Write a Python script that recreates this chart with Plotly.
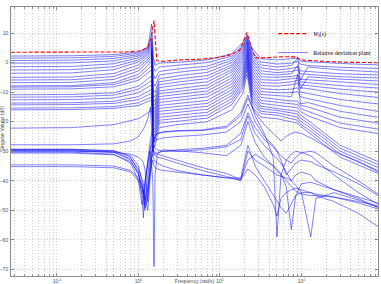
import plotly.graph_objects as go

# ---------------- data ----------------
X_TICKS = [0.1, 1, 10, 100]
X_TICKTEXT = ["10<sup>-1</sup>", "10<sup>0</sup>", "10<sup>1</sup>", "10<sup>2</sup>"]
Y_TICKS = [10, 0, -10, -20, -30, -40, -50, -60, -70]

# uncertainty weight W_I(s) (red dashed)
W_FREQ = [0.027, 0.3, 0.7, 1.0, 1.13, 1.31, 1.42, 1.55, 1.62, 1.68, 2.0, 3.2, 5.7, 10,
          13.3, 17.6, 21.4, 24, 27, 35, 60, 88, 96, 130, 225, 400, 870]
W_DB = [3.5, 3.5, 3.6, 3.9, 4.3, 5.4, 8.0, 14.2, 5.0, 0.6, 0.4, 0.9, 1.1, 1.8,
        2.6, 4.3, 10.2, 5.5, 1.6, 1.6, 2.0, 1.9, 0.9, 0.6, 0.3, 0.1, -0.05]

# upper family of relative-deviation curves
FREQ_UPPER = [0.027, 0.15, 0.5, 1.0, 1.3, 1.45, 1.52, 1.6, 1.8, 3, 7, 14, 19, 21.5,
              25, 32, 50, 75, 90, 97, 120, 300, 870]
UPPER_DB = [
    [2.2, 2.3, 2.7, 3.6, 5.2, 13.0, 2.0, -1.0, -0.2, 0.1, 0.9, 3.0, 6.8, 9.4, 4.6, 1.3, 0.9, 1.2, 1.5, 0.6, 0.3, -0.3, -0.8],
    [1.5, 1.6, 2.1, 3.2, 4.8, 9.8, -1.5, -3.0, -1.5, -1.0, 0.0, 2.2, 6.0, 8.9, 3.5, 0.2, -0.5, -0.2, 0.5, -0.5, -1.0, -1.6, -2.0],
    [0.7, 0.8, 1.4, 2.7, 4.4, 8.0, -4.0, -5.5, -3.0, -2.2, -1.2, 1.5, 5.4, 8.4, 2.6, -0.8, -1.5, -1.0, 1.5, -6.0, -1.5, -2.5, -3.2],
    [-0.2, -0.1, 0.6, 2.2, 4.0, 7.0, -7.0, -8.0, -4.2, -3.3, -2.2, 0.8, 5.0, 7.9, 1.8, -1.8, -2.5, -2.0, -1.5, -2.8, -3.0, -3.8, -4.2],
    [-1.4, -1.3, -0.4, 1.6, 3.5, 6.0, -9.5, -10.0, -5.5, -4.5, -3.3, 0.0, 4.4, 7.4, 1.0, -2.8, -3.4, -3.0, -2.5, -3.8, -4.0, -4.8, -5.2],
    [-2.5, -2.4, -1.4, 0.9, 3.0, 5.0, -11.5, -11.5, -6.5, -5.6, -4.4, -0.8, 3.8, 7.0, 0.2, -3.8, -4.2, -3.8, -1.0, -9.0, -4.8, -5.6, -6.2],
    [-3.6, -3.5, -2.4, 0.2, 2.5, 4.2, -13.0, -13.0, -7.5, -6.6, -5.4, -1.5, 3.2, 6.5, -0.8, -4.8, -5.0, -4.7, -4.3, -5.6, -5.8, -6.6, -7.4],
    [-5.0, -4.9, -3.7, -0.8, 1.8, 3.5, -14.5, -14.0, -8.5, -7.6, -6.5, -2.4, 2.5, 6.0, -1.8, -5.8, -6.0, -5.5, -5.2, -6.5, -6.8, -7.8, -8.6],
    [-5.9, -5.8, -4.7, -1.8, 1.0, 2.8, -16.0, -15.0, -9.6, -8.8, -7.6, -3.2, 1.8, 5.4, -2.8, -6.8, -7.0, -6.5, -6.0, -7.5, -7.8, -9.0, -10.0],
    [-6.8, -6.7, -5.7, -2.8, 0.2, 2.0, -17.0, -16.0, -10.5, -9.8, -8.6, -4.2, 1.0, 4.8, -3.8, -7.8, -8.0, -7.5, -7.0, -8.5, -8.8, -10.5, -11.8],
    [-7.9, -7.8, -6.8, -4.0, -1.0, 0.8, -18.0, -17.0, -11.5, -10.8, -9.6, -5.2, 0.2, 4.2, -4.8, -8.8, -9.2, -9.0, -8.5, -10.0, -10.5, -12.5, -14.0],
    [-8.3, -8.2, -7.4, -5.0, -2.2, -1.0, -19.0, -18.0, -12.5, -11.8, -10.6, -6.2, -0.8, 3.6, -5.8, -9.8, -10.2, -10.2, -9.8, -11.5, -12.2, -14.5, -16.5],
    [-9.0, -8.9, -8.2, -6.0, -3.5, -2.5, -20.0, -19.0, -13.5, -12.8, -11.6, -7.2, -1.8, 3.0, -6.8, -10.8, -11.2, -11.5, -4.0, -14.0, -13.5, -16.5, -18.5],
    [-10.9, -10.8, -10.2, -8.0, -5.5, -4.5, -21.0, -20.0, -14.5, -13.8, -12.8, -8.2, -2.8, 2.4, -7.8, -11.8, -12.5, -13.0, -13.0, -14.5, -15.0, -18.5, -20.5],
    [-11.7, -11.6, -11.0, -9.0, -7.0, -6.0, -22.0, -21.0, -15.5, -14.8, -13.8, -9.2, -3.8, 1.7, -8.8, -12.8, -13.5, -14.0, -14.2, -15.5, -16.5, -20.5, -22.5],
    [-12.6, -12.5, -12.0, -10.2, -8.3, -7.5, -23.0, -22.0, -16.5, -15.8, -14.8, -10.2, -4.8, 1.0, -9.8, -13.8, -14.5, -15.0, -15.3, -16.5, -18.0, -22.0, -24.0],
    [-13.7, -13.6, -13.1, -11.5, -9.8, -9.0, -24.0, -23.0, -17.5, -16.8, -15.8, -11.2, -5.8, 0.2, -10.8, -14.8, -15.5, -16.0, -16.5, -17.8, -19.5, -28.0, -33.5],
    [-14.3, -14.2, -13.8, -12.5, -11.0, -10.5, -25.0, -24.0, -18.5, -17.8, -16.8, -12.2, -6.8, -0.6, -11.8, -15.6, -16.2, -17.0, -17.5, -18.8, -20.5, -29.0, -34.5],
    [-15.4, -15.3, -14.9, -13.6, -12.2, -11.8, -26.0, -25.0, -19.5, -18.8, -17.8, -13.2, -7.8, -1.5, -12.8, -16.5, -17.0, -18.0, -18.5, -19.8, -21.5, -30.0, -35.5],
    [-16.0, -15.9, -15.5, -14.5, -13.2, -12.8, -27.0, -26.0, -20.5, -19.8, -18.8, -14.2, -8.8, -2.5, -13.8, -17.3, -17.8, -19.0, -19.5, -20.8, -22.5, -31.0, -36.5],
    [-22.2, -22.0, -21.0, -19.0, -17.0, -16.0, -29.0, -28.0, -22.0, -21.0, -20.0, -16.0, -10.5, -4.0, -15.0, -18.5, -19.0, -20.0, -20.5, -21.5, -23.5, -32.0, -37.5],
]

# lower family of relative-deviation curves
FREQ_LOWER = [0.027, 0.15, 0.5, 0.8, 1.0, 1.1, 1.15, 1.2, 1.3, 1.4, 1.5, 1.55, 1.6, 1.7, 2.0, 3,
              6, 12, 18, 22, 27, 35, 45, 50, 56, 65, 75, 85, 100, 130, 150, 250, 500, 870]
LOWER_DB = [
    [-27.8, -27.8, -27.5, -26.5, -25.0, -23.5, -22.5, -21.5, -19.0, -15.0, -30.0, -27.0, -25.0, -24.0, -23.5, -23.2, -23.0, -22.0, -18.0, -12.0, -17.0, -21.0, -24.0, -25.5, -26.5, -25.0, -24.0, -23.5, -24.0, -25.5, -26.5, -30.0, -33.5, -37.0],
    [-29.3, -29.3, -29.8, -32.0, -37.0, -45.0, -52.5, -43.0, -33.0, -26.0, -22.0, -26.0, -25.0, -24.0, -23.5, -23.0, -22.8, -21.5, -17.0, -11.0, -18.0, -24.0, -32.0, -59.0, -38.0, -33.0, -31.0, -30.0, -30.5, -31.5, -33.0, -38.0, -44.0, -48.0],
    [-29.4, -29.4, -29.9, -31.5, -35.0, -40.0, -44.0, -48.0, -38.0, -30.0, -40.0, -69.0, -38.0, -31.0, -29.5, -29.8, -30.5, -31.5, -28.0, -20.0, -27.0, -32.0, -35.0, -36.0, -37.5, -42.0, -56.5, -45.0, -41.0, -40.5, -41.0, -43.0, -46.0, -49.0],
    [-29.6, -29.6, -30.2, -33.0, -38.0, -42.0, -44.5, -41.0, -35.0, -29.0, -27.0, -31.0, -31.5, -32.0, -32.5, -34.0, -36.5, -38.5, -40.0, -30.0, -33.0, -35.0, -37.0, -38.0, -38.5, -39.0, -40.0, -41.5, -44.0, -59.0, -46.0, -44.0, -46.5, -49.0],
    [-29.8, -29.8, -30.4, -32.5, -36.0, -39.0, -41.0, -45.0, -50.0, -38.0, -28.0, -30.0, -30.5, -31.0, -31.5, -33.0, -35.5, -37.5, -39.6, -33.0, -31.0, -33.0, -35.0, -36.5, -38.0, -40.0, -42.0, -43.5, -44.5, -45.0, -45.0, -45.5, -47.0, -48.5],
    [-30.0, -30.0, -30.3, -31.0, -32.0, -33.0, -34.0, -36.0, -47.0, -34.0, -26.0, -28.0, -29.0, -29.5, -30.0, -30.0, -29.5, -28.5, -26.0, -18.0, -24.0, -28.0, -31.0, -32.5, -34.0, -37.0, -40.0, -38.0, -37.0, -38.0, -40.0, -43.0, -45.5, -47.5],
    [-30.3, -30.3, -31.0, -34.0, -40.0, -48.0, -46.0, -40.0, -34.0, -28.0, -24.0, -27.0, -26.5, -26.0, -25.5, -25.0, -24.5, -23.5, -20.0, -14.0, -20.0, -25.0, -28.0, -30.0, -33.0, -38.0, -36.0, -34.0, -33.0, -33.5, -34.5, -37.0, -41.0, -45.0],
    [-30.6, -30.6, -31.2, -33.5, -37.5, -41.0, -43.0, -46.5, -42.0, -33.0, -31.0, -33.0, -33.5, -34.0, -35.0, -36.5, -38.0, -39.0, -39.6, -36.0, -38.0, -42.0, -48.0, -52.0, -46.0, -44.0, -43.0, -42.5, -43.0, -44.0, -45.0, -47.0, -51.0, -55.5],
    [-34.6, -34.6, -35.0, -36.5, -39.0, -42.0, -45.0, -49.0, -43.0, -35.0, -29.0, -31.0, -31.0, -30.5, -30.0, -29.5, -29.0, -28.0, -24.0, -17.0, -22.0, -26.0, -28.5, -30.0, -31.5, -33.0, -34.0, -32.0, -30.5, -30.0, -30.5, -35.0, -40.0, -44.5],
    [-35.2, -35.2, -35.6, -37.0, -40.0, -44.0, -47.0, -50.0, -45.0, -37.0, -33.0, -35.0, -35.5, -36.0, -36.5, -37.0, -38.0, -39.0, -39.0, -28.0, -35.0, -40.0, -45.0, -47.0, -49.0, -51.0, -48.0, -45.0, -44.0, -44.0, -44.5, -45.5, -47.5, -49.5],
]

# ---------------- figure ----------------
BLUE = "rgb(0,0,255)"
fig = go.Figure()

first = True
for freq, rows in ((FREQ_UPPER, UPPER_DB), (FREQ_LOWER, LOWER_DB)):
    for row in rows:
        fig.add_trace(go.Scatter(
            x=freq, y=row, mode="lines",
            line=dict(color=BLUE, width=0.5),
            name="Relative deviation plant", legendgroup="rel",
            showlegend=first, legendrank=2, hoverinfo="skip"))
        first = False

fig.add_trace(go.Scatter(
    x=W_FREQ, y=W_DB, mode="lines",
    line=dict(color="red", width=1.1, dash="4px,2px"),
    name="<i>W<sub>I</sub></i>(<i>s</i>)", legendrank=1, hoverinfo="skip"))

GRID = "rgb(208,208,208)"
AX = "rgb(140,140,140)"
DOT = "1px,2px"
fig.update_layout(
    width=381, height=284,
    margin=dict(l=11, r=3, t=7, b=8),
    paper_bgcolor="white", plot_bgcolor="white",
    font=dict(family="Liberation Sans, Arial, sans-serif", size=5, color="rgb(80,80,80)"),
    showlegend=True,
    legend=dict(x=0.995, xanchor="right", y=0.955, yanchor="top",
                bgcolor="rgba(0,0,0,0)", borderwidth=0,
                font=dict(family="Liberation Serif, Times New Roman, serif", size=6, color="black"),
                tracegroupgap=0, itemwidth=30),
    xaxis=dict(type="log", range=[-1.564, 2.939], tickvals=X_TICKS, ticktext=X_TICKTEXT,
               showgrid=True, gridcolor=GRID, griddash=DOT, gridwidth=0.6,
               minor=dict(dtick="D1", showgrid=True, gridcolor=GRID, griddash=DOT,
                          gridwidth=0.6, ticks="inside", ticklen=2, tickcolor=AX),
               showline=True, mirror="ticks", linecolor=AX, linewidth=0.6,
               ticks="inside", ticklen=3, tickcolor=AX, zeroline=False,
               tickfont=dict(size=5), automargin=False,
               title=dict(text="Frequency (rad/s)", font=dict(size=5), standoff=1)),
    yaxis=dict(range=[-72.2, 18.8], tickvals=Y_TICKS,
               showgrid=True, gridcolor=GRID, griddash=DOT, gridwidth=0.6,
               showline=True, mirror="ticks", linecolor=AX, linewidth=0.6,
               ticks="inside", ticklen=3, tickcolor=AX, zeroline=False,
               tickfont=dict(size=5), automargin=False, ticklabelstandoff=1),
    annotations=[dict(text="Singular Values (dB)", xref="paper", yref="paper",
                      x=-0.024, y=0.55, textangle=-90, showarrow=False,
                      font=dict(size=5), xanchor="center", yanchor="middle")],
)

fig.write_html("out.html")
